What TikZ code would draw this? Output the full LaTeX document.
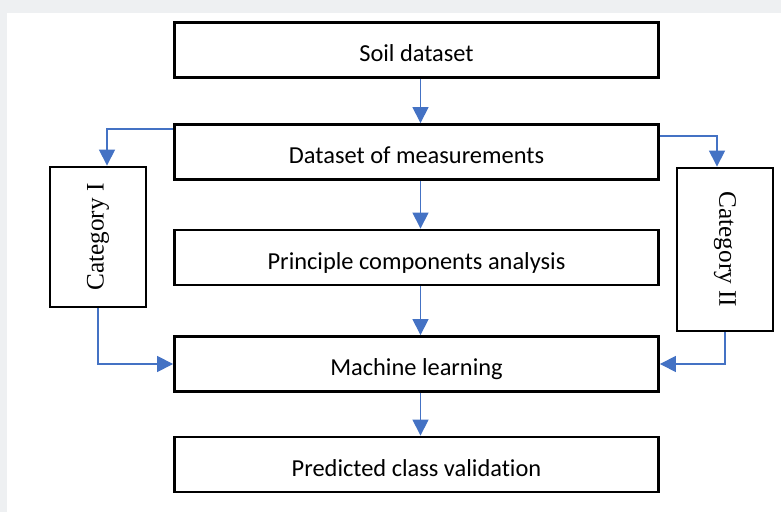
\documentclass[tikz,border=0pt]{standalone}
\usepackage{fontspec}
\usepackage{graphicx}
\setmainfont{Carlito}[Ligatures=NoCommon]
\newfontfamily\catfont{Liberation Serif}
\usepackage{tikz}
\usetikzlibrary{arrows.meta}

\definecolor{pagegray}{HTML}{EEF0F2}
\definecolor{flowblue}{HTML}{4472C4}

\begin{document}
\begin{tikzpicture}[x=0.5pt,y=-0.5pt,
  stage/.style={draw,line width=1.4pt,minimum width=242pt,minimum height=27.5pt,inner sep=0pt,text height=12pt,text depth=0pt,font=\fontsize{12.2}{14}\selectfont},
  catbox/.style={draw,line width=1.4pt,minimum width=48pt,inner sep=0pt,font=\catfont\fontsize{12.6}{14}\selectfont},
  flow/.style={draw=flowblue,line width=0.6pt,-{Triangle[length=8pt,width=8pt]}}]

\fill[pagegray] (0,0) rectangle (781,512);
\fill[white] (7,13) rectangle (781,512);
\useasboundingbox (0,0) rectangle (781,512);

\node[stage] (soil) at (416.5,50) {Soil dataset};

\node[stage] (meas) at (416.5,152) {Dataset of measurements};

\node[stage] (pca) at (416.5,257.5) {Principle components analysis};

\node[stage] (ml) at (416.5,364) {Machine learning};

\node[stage] (pred) at (416.5,464.5) {Predicted class validation};

\node[catbox,minimum height=70pt] (cat1) at (98,237) {\rotatebox{90}{Category I}};
\node[catbox,minimum height=81.5pt] (cat2) at (725,249.5) {\rotatebox{-90}{Category II}};


\draw[flow] ([xshift=2pt]soil.south) -- ([xshift=2pt]meas.north);
\draw[flow] ([xshift=2pt]meas.south) -- ([xshift=2pt]pca.north);
\draw[flow] ([xshift=2pt]pca.south) -- ([xshift=2pt]ml.north);
\draw[flow] ([xshift=2pt]ml.south) -- ([xshift=2pt]pred.north);
\draw[flow] ([yshift=-3pt]meas.north west) -| ([xshift=4.5pt]cat1.north);
\draw[flow] ([yshift=-6.5pt]meas.north east) -| ([xshift=-4pt]cat2.north);
\draw[flow] (cat1.south) |- (ml.west);
\draw[flow] (cat2.south) |- (ml.east);


\end{tikzpicture}
\end{document}
